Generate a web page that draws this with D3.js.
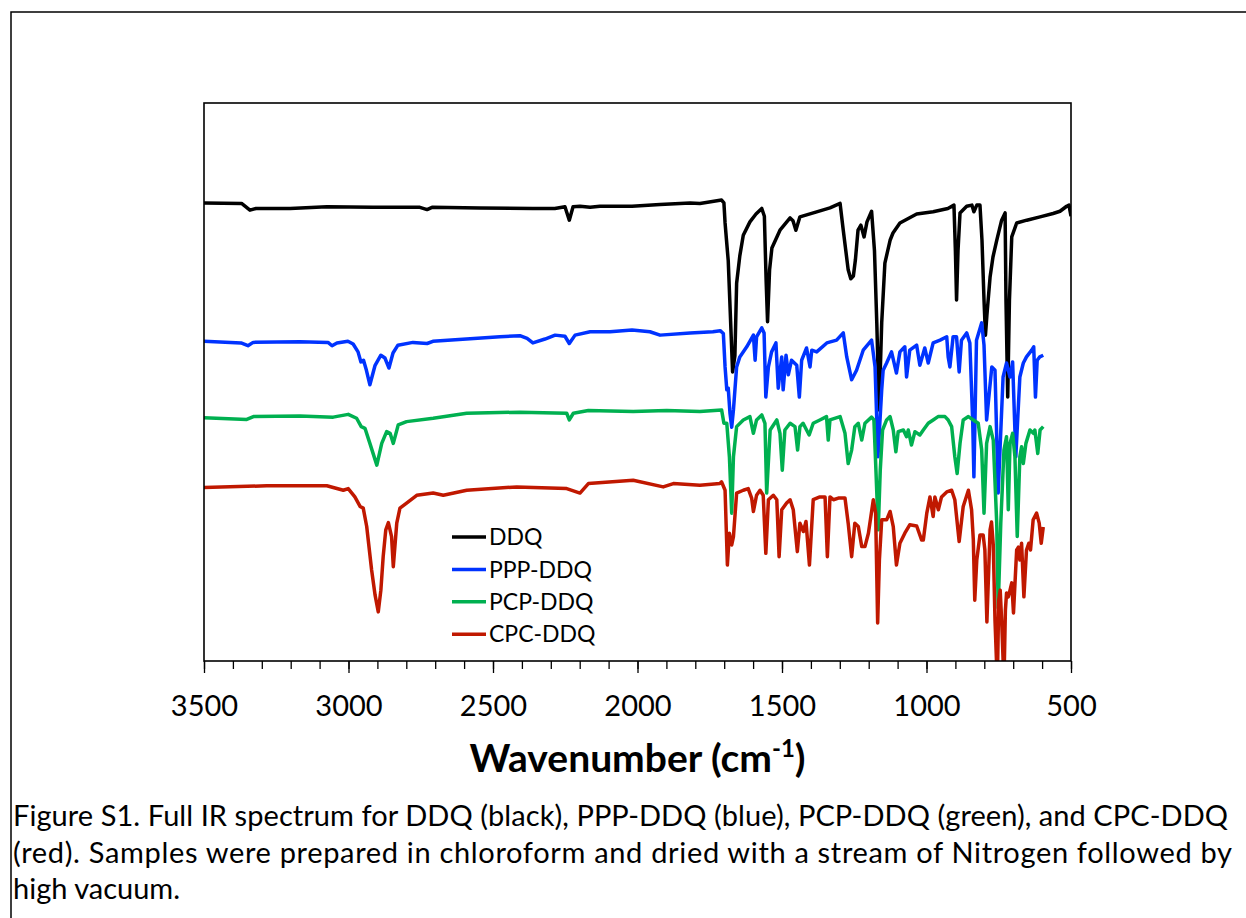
<!DOCTYPE html>
<html lang="en">
<head>
<meta charset="utf-8">
<title>Full IR spectrum - DDQ complexes</title>
<script src="https://d3js.org/d3.v7.min.js"></script>
<style type="text/css">
body { margin: 0; background: #fff; }
text { font-family: Lato, "Open Sans", sans-serif; fill: #000; }
</style>
</head>
<body>
<div id="chart"></div>
<script type="text/javascript">
// legend names and line colours
var seriesNames = ["DDQ", "PPP-DDQ", "PCP-DDQ", "CPC-DDQ"];
var seriesColors = ["#000000", "#0033ff", "#00b050", "#c01800"];
var xTickValues = [3500, 3000, 2500, 2000, 1500, 1000, 500];

// [wavenumber (cm-1), offset transmittance (a.u.)]
var ddq = [[3500,82.1],[3370,82.0],[3341,80.8],[3320,81.1],[3202,81.1],[3075,81.4],[2915,81.3],[2753,81.3],[2728,80.9],[2711,81.3],[2545,81.2],[2362,81.1],[2286,81.1],[2251,81.4],[2236,79.0],[2223,81.4],[2199,81.5],[2164,81.3],[2130,81.5],[2019,81.5],[1922,81.8],[1818,82.1],[1784,82.0],[1709,82.6],[1701,82.1],[1697,78.5],[1692,75.4],[1686,71.7],[1678,61.1],[1671,51.8],[1663,54.7],[1657,67.7],[1646,72.6],[1634,76.3],[1611,78.7],[1590,80.1],[1570,81.1],[1561,79.7],[1555,68.3],[1550,60.8],[1543,70.1],[1535,74.0],[1507,77.2],[1472,79.4],[1462,78.9],[1452,77.2],[1438,79.6],[1380,80.5],[1334,81.2],[1299,82.0],[1288,77.2],[1271,70.1],[1262,68.5],[1253,69.0],[1246,71.9],[1237,77.2],[1227,78.1],[1216,76.0],[1206,78.7],[1190,80.6],[1180,73.5],[1172,60.6],[1164,45.0],[1155,60.6],[1144,71.3],[1126,75.4],[1116,76.7],[1092,78.5],[1034,80.1],[977,80.5],[926,81.1],[905,81.7],[900,73.5],[896,64.7],[891,73.5],[884,80.3],[861,81.5],[843,81.7],[836,80.5],[826,81.7],[815,81.7],[808,75.4],[801,64.7],[796,58.4],[791,62.0],[780,68.8],[770,72.4],[757,75.4],[740,79.0],[728,80.3],[725,64.7],[719,47.3],[713,64.7],[705,76.0],[688,78.5],[653,79.0],[607,79.6],[562,80.2],[538,80.6],[515,81.5],[507,81.7],[500,79.7]];

var pppDdq = [[3500,57.3],[3372,57.0],[3348,56.5],[3330,57.1],[3168,57.2],[3071,57.1],[3057,56.5],[3040,57.0],[3002,57.3],[2984,56.8],[2967,55.4],[2957,53.6],[2948,53.9],[2938,52.1],[2926,49.5],[2908,53.0],[2888,54.8],[2874,54.3],[2860,52.5],[2846,55.2],[2829,56.6],[2777,57.1],[2728,56.9],[2708,57.3],[2476,58.1],[2407,58.3],[2382,57.8],[2362,57.0],[2320,57.7],[2285,58.4],[2251,58.2],[2236,56.9],[2216,58.4],[2164,59.0],[2095,59.0],[2019,59.3],[1957,59.0],[1922,58.4],[1818,58.8],[1739,59.0],[1714,59.2],[1703,58.7],[1697,52.7],[1691,48.6],[1686,48.9],[1680,44.4],[1674,41.9],[1668,45.0],[1657,52.7],[1646,54.5],[1622,56.3],[1599,58.4],[1593,53.9],[1588,58.1],[1570,59.7],[1562,58.8],[1556,47.3],[1547,52.7],[1536,55.4],[1521,57.0],[1513,48.9],[1501,54.5],[1496,48.6],[1486,54.8],[1478,51.3],[1467,53.9],[1449,53.0],[1440,47.3],[1432,53.9],[1415,56.1],[1403,52.7],[1397,55.7],[1380,55.4],[1345,57.0],[1311,57.5],[1288,58.8],[1276,54.5],[1259,50.4],[1242,52.1],[1219,55.7],[1190,57.5],[1178,52.7],[1168,36.6],[1155,48.6],[1150,52.1],[1138,53.4],[1121,55.4],[1104,51.6],[1092,55.4],[1075,56.3],[1069,50.9],[1058,55.7],[1034,56.6],[1023,53.0],[1006,56.1],[994,53.4],[977,57.0],[953,57.5],[930,58.1],[925,54.5],[919,52.7],[908,58.1],[896,58.1],[887,51.8],[879,57.5],[861,58.8],[850,57.0],[840,42.7],[836,33.0],[827,57.5],[809,60.6],[801,56.6],[792,43.2],[774,52.7],[763,52.1],[752,30.1],[735,50.9],[723,53.4],[711,50.9],[702,53.6],[691,36.6],[677,50.9],[665,53.4],[654,54.5],[636,55.7],[629,56.3],[623,47.3],[617,53.9],[608,54.5],[596,54.8]];

var pcpDdq = [[3500,43.6],[3352,43.3],[3329,43.8],[3168,43.9],[3053,43.7],[3001,44.2],[2972,43.5],[2956,42.0],[2943,41.7],[2926,39.0],[2902,35.1],[2885,39.0],[2868,41.1],[2856,40.8],[2845,39.0],[2828,42.3],[2799,42.9],[2707,43.5],[2591,44.4],[2407,44.6],[2245,44.4],[2236,43.2],[2222,44.4],[2170,44.9],[2015,44.7],[1899,44.9],[1784,44.7],[1709,45.0],[1701,42.6],[1691,42.6],[1682,36.6],[1674,26.5],[1668,36.6],[1657,42.0],[1634,43.2],[1611,43.8],[1599,40.8],[1588,43.2],[1570,44.1],[1559,42.6],[1553,30.1],[1541,41.4],[1518,43.2],[1507,40.8],[1499,34.2],[1490,41.4],[1472,42.6],[1455,42.0],[1446,37.8],[1438,42.0],[1427,42.6],[1415,41.4],[1406,40.5],[1392,42.6],[1369,43.2],[1346,43.8],[1340,39.6],[1334,43.2],[1299,43.8],[1282,40.8],[1271,35.4],[1259,37.8],[1248,42.0],[1236,42.6],[1224,39.6],[1213,42.6],[1190,43.7],[1182,43.2],[1175,34.2],[1167,23.5],[1160,34.2],[1152,41.4],[1138,43.2],[1126,43.8],[1115,41.4],[1106,37.5],[1098,41.1],[1080,41.4],[1069,40.2],[1063,41.4],[1052,38.7],[1040,41.1],[1023,40.5],[1011,41.4],[994,42.6],[977,43.2],[960,43.8],[936,43.8],[925,43.2],[913,42.0],[902,36.6],[894,33.6],[884,39.0],[873,43.2],[855,43.8],[838,43.2],[821,42.6],[809,37.8],[801,26.5],[792,39.0],[780,42.0],[769,39.6],[757,24.7],[752,9.5],[743,24.7],[732,37.8],[723,40.2],[717,27.1],[711,39.0],[702,40.8],[694,36.6],[686,22.3],[677,36.6],[671,38.4],[665,35.4],[656,39.0],[642,41.4],[630,40.8],[625,41.4],[615,37.2],[607,41.4],[596,42.0]];

var cpcDdq = [[3500,31.1],[3283,31.4],[3075,31.4],[3018,30.6],[3001,30.9],[2978,29.4],[2960,27.7],[2949,27.4],[2937,24.1],[2920,16.3],[2908,11.8],[2897,8.8],[2888,12.7],[2880,18.7],[2871,23.5],[2862,24.8],[2851,22.3],[2845,16.9],[2833,24.7],[2822,27.4],[2799,28.3],[2764,29.7],[2707,30.1],[2672,29.7],[2591,30.6],[2418,31.2],[2245,30.9],[2199,30.1],[2170,31.8],[2015,32.4],[1911,31.2],[1876,31.8],[1784,31.5],[1715,31.8],[1709,32.1],[1697,30.6],[1689,17.2],[1682,22.9],[1674,20.8],[1668,22.3],[1657,30.1],[1634,30.6],[1617,30.9],[1605,29.2],[1599,26.8],[1588,29.7],[1576,30.6],[1565,29.7],[1556,19.3],[1547,28.9],[1530,29.7],[1518,28.9],[1510,18.7],[1501,27.1],[1484,28.3],[1472,28.9],[1461,27.1],[1447,19.6],[1438,24.7],[1426,23.2],[1417,25.0],[1405,17.2],[1392,28.9],[1369,29.4],[1351,29.4],[1343,18.7],[1334,29.4],[1322,28.9],[1305,29.2],[1282,29.2],[1271,24.7],[1259,18.7],[1248,24.7],[1236,24.1],[1224,20.5],[1213,20.5],[1201,22.9],[1184,28.9],[1176,26.5],[1169,6.8],[1163,18.1],[1155,25.3],[1138,25.3],[1126,26.8],[1115,24.1],[1104,17.2],[1092,21.1],[1075,22.9],[1058,24.4],[1034,24.2],[1017,21.7],[1011,21.7],[999,26.5],[988,29.4],[977,25.9],[971,29.4],[959,27.1],[948,29.4],[930,30.3],[913,30.6],[902,28.9],[887,21.4],[873,27.7],[855,30.6],[844,27.1],[838,21.7],[833,10.9],[826,18.1],[815,22.6],[804,22.6],[798,19.9],[791,7.0],[780,23.5],[775,24.9],[769,20.8],[763,7.3],[755,-4.0],[750,10.9],[745,12.7],[740,7.3],[732,-4.0],[727,9.1],[723,12.2],[717,11.5],[711,12.7],[705,14.0],[699,8.6],[688,19.9],[682,20.4],[677,18.1],[671,21.1],[663,11.5],[654,19.9],[646,21.1],[640,19.9],[631,25.3],[619,26.5],[610,24.7],[603,21.1],[596,24.0]];

var captionLines = [
	"Figure S1. Full IR spectrum for DDQ (black), PPP-DDQ (blue), PCP-DDQ (green), and CPC-DDQ",
	"(red). Samples were prepared in chloroform and dried with a stream of Nitrogen followed by",
	"high vacuum."
];

var allSeries = [ddq, pppDdq, pcpDdq, cpcDdq];

//Width and height
var w = 1246;
var h = 918;
var plot = {left: 204, right: 1071, top: 103, bottom: 661};

//Scales
var xScale = d3.scaleLinear()
	.domain([3500, 500])
	.range([plot.left, plot.right]);

var yScale = d3.scaleLinear()
	.domain([0, 100])
	.range([plot.bottom, plot.top]);

//Create SVG element
var svg = d3.select("#chart")
	.append("svg")
	.attr("width", w)
	.attr("height", h);

// outer figure frame (only top and left edges are in view)
svg.append("path")
	.attr("d", "M11," + h + "V12H" + w)
	.attr("fill", "none")
	.attr("stroke", "#000")
	.attr("stroke-width", 1.5);

svg.append("clipPath")
	.attr("id", "plotclip")
	.append("rect")
	.attr("x", plot.left)
	.attr("y", plot.top)
	.attr("width", plot.right - plot.left)
	.attr("height", plot.bottom - plot.top);

// spectra
var line = d3.line()
	.x(d => xScale(d[0]))
	.y(d => yScale(d[1]));

svg.append("g")
	.attr("clip-path", "url(#plotclip)")
	.selectAll("path")
	.data(allSeries)
	.enter()
	.append("path")
	.attr("d", line)
	.attr("fill", "none")
	.attr("stroke", (d, i) => seriesColors[i])
	.attr("stroke-width", 3.5)
	.attr("stroke-linejoin", "round");

// plot border
svg.append("rect")
	.attr("x", plot.left)
	.attr("y", plot.top)
	.attr("width", plot.right - plot.left)
	.attr("height", plot.bottom - plot.top)
	.attr("fill", "none")
	.attr("stroke", "#000")
	.attr("stroke-width", 1.6);

//Minor ticks every 100
var minorAxis = d3.axisBottom(xScale)
	.tickValues(d3.range(500, 3501, 100))
	.tickSize(8)
	.tickFormat("");

svg.append("g")
	.attr("transform", "translate(0," + plot.bottom + ")")
	.call(minorAxis)
	.call(g => g.select(".domain").remove())
	.call(g => g.selectAll("line").attr("stroke", "#000").attr("stroke-width", 1.3));

//Major ticks and labels
var xAxis = d3.axisBottom(xScale)
	.tickValues(xTickValues)
	.tickSize(12)
	.tickPadding(22)
	.tickFormat(d3.format("d"));

svg.append("g")
	.attr("transform", "translate(0," + plot.bottom + ")")
	.call(xAxis)
	.call(g => g.select(".domain").remove())
	.call(g => g.selectAll("line").attr("stroke", "#000").attr("stroke-width", 1.3))
	.call(g => g.selectAll("text")
		.attr("font-family", "Lato, sans-serif")
		.attr("font-size", 29)
		.attr("fill", "#000"));

// axis title
var title = svg.append("text")
	.attr("x", (plot.left + plot.right) / 2)
	.attr("y", 772)
	.attr("text-anchor", "middle")
	.attr("font-size", 39)
	.attr("font-weight", "bold");
title.append("tspan").text("Wavenumber (cm");
title.append("tspan").attr("dy", -15).attr("font-size", 24).text("-1");
title.append("tspan").attr("dy", 15).text(")");

// legend
var legend = svg.append("g")
	.attr("transform", "translate(452,537)");

var items = legend.selectAll("g")
	.data(seriesNames)
	.enter()
	.append("g")
	.attr("transform", (d, i) => "translate(0," + i * 32.4 + ")");

items.append("line")
	.attr("x1", 0)
	.attr("x2", 34)
	.attr("stroke", (d, i) => seriesColors[i])
	.attr("stroke-width", 3.5);

items.append("text")
	.attr("x", 37)
	.attr("dy", "0.36em")
	.attr("font-size", 23)
	.text(d => d);

// caption
svg.append("g")
	.selectAll("text")
	.data(captionLines)
	.enter()
	.append("text")
	.attr("x", 13)
	.attr("y", (d, i) => 826 + i * 36.5)
	.attr("font-size", 29)
	.attr("textLength", (d, i) => i === 0 ? 1215 : (i === 1 ? 1219 : null))
	.text(d => d);
</script>
</body>
</html>
